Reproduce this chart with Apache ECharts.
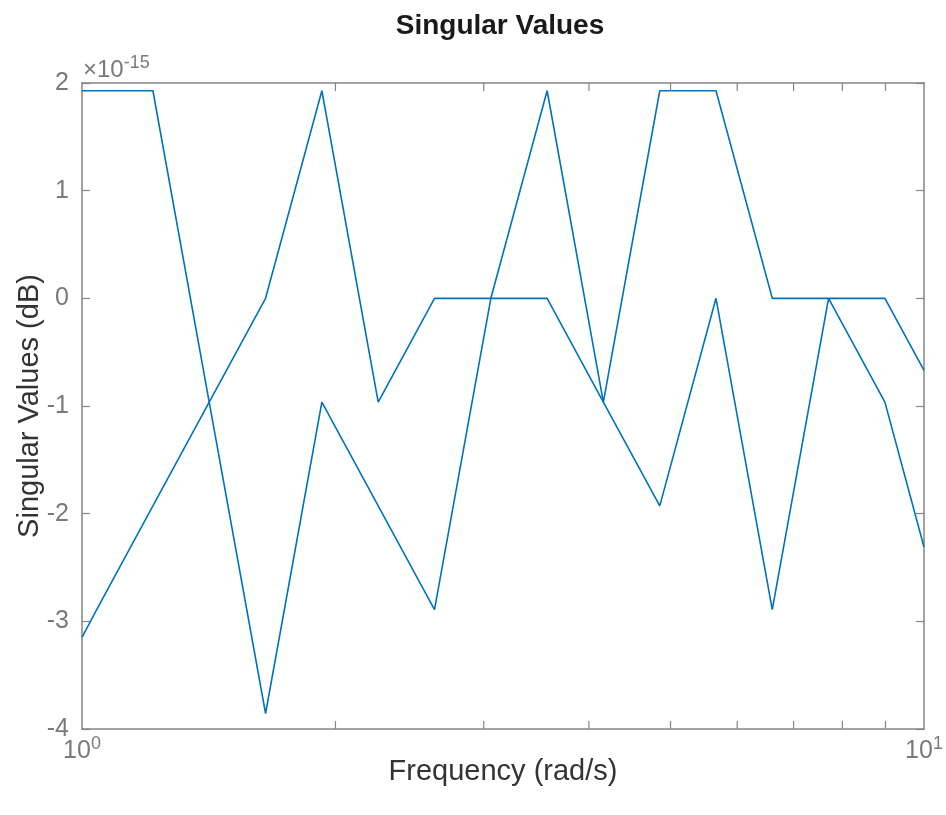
<!DOCTYPE html>
<html>
<head>
<meta charset="utf-8">
<script src="https://cdn.jsdelivr.net/npm/echarts@6/dist/echarts.min.js"></script>
<style>
html,body{margin:0;padding:0;background:#fff;}
#c{width:946px;height:815px;}
</style>
</head>
<body>
<div id="c"></div>
<script>
// Frequency points (rad/s)
var freq = [1, 1.041, 1.214, 1.416, 1.652, 1.927, 2.248, 2.622, 3.059, 3.568, 4.161, 4.855, 5.662, 6.604, 7.703, 8.986, 10];
// Singular values in units of 1e-15 dB
var sv1 = [1.928, 1.928, 1.928, -0.964, -3.856, -0.964, -1.928, -2.892, 0, 1.928, -0.964, 1.928, 1.928, 0, 0, 0, -0.67];
var sv2 = [-3.15, -2.892, -1.928, -0.964, 0, 1.928, -0.964, 0, 0, 0, -0.964, -1.928, 0, -2.892, 0, -0.964, -2.31];
// Axis ticks
var yTicks = [-4, -3, -2, -1, 0, 1, 2];
var xMinorTicks = [2, 3, 4, 5, 6, 7, 8, 9];
var xRange = [1, 10];
var yRange = [-4, 2];

var FONT = 'Liberation Sans, Arial, Helvetica, sans-serif';
var AXC = '#858585';
var TXC = '#7a7a7a';
var LINEC = '#0072BD';

function pairs(xs, ys) { return xs.map(function (x, i) { return [x, ys[i]]; }); }

var chart = echarts.init(document.getElementById('c'), null, {renderer: 'canvas'});
var option = {
  animation: false,
  backgroundColor: '#ffffff',
  grid: {left: 82, right: 22, top: 83, bottom: 86, containLabel: false},
  xAxis: [{
    type: 'log', logBase: 10, min: xRange[0], max: xRange[1],
    position: 'bottom',
    name: 'Frequency (rad/s)', nameLocation: 'middle', nameGap: 28, nameMoveOverlap: false,
    nameTextStyle: {fontFamily: FONT, fontSize: 29, color: '#333333'},
    axisLine: {show: true, onZero: false, lineStyle: {color: AXC, width: 1.5}},
    axisTick: {show: false},
    splitLine: {show: false},
    axisLabel: {
      show: true, margin: 6, color: TXC, fontFamily: FONT, fontSize: 25,
      formatter: function (v) {
        var e = Math.round(Math.log(v) / Math.LN10);
        return '{b|10}{s|' + e + '}';
      },
      rich: {
        b: {fontFamily: FONT, fontSize: 25, color: TXC},
        s: {fontFamily: FONT, fontSize: 18, color: TXC, padding: [0, 0, 14, 0]}
      }
    }
  }, {
    type: 'log', logBase: 10, min: xRange[0], max: xRange[1],
    position: 'top',
    axisLine: {show: true, onZero: false, lineStyle: {color: AXC, width: 1.5}},
    axisTick: {show: false}, axisLabel: {show: false}, splitLine: {show: false}
  }],
  yAxis: [{
    type: 'value', min: yRange[0], max: yRange[1], interval: 1,
    position: 'left',
    name: 'Singular Values (dB)', nameLocation: 'middle', nameGap: 38, nameRotate: 90, nameMoveOverlap: false,
    nameTextStyle: {fontFamily: FONT, fontSize: 29, color: '#333333'},
    axisLine: {show: true, onZero: false, lineStyle: {color: AXC, width: 1.5}},
    axisTick: {show: true, inside: true, length: 8, lineStyle: {color: AXC, width: 1.2}},
    axisLabel: {show: true, margin: 13, color: TXC, fontFamily: FONT, fontSize: 25,
      formatter: function (v) { return yTicks.indexOf(v) >= 0 ? String(v) : ''; }},
    splitLine: {show: false}
  }, {
    type: 'value', min: yRange[0], max: yRange[1], interval: 1,
    position: 'right',
    axisLine: {show: true, onZero: false, lineStyle: {color: AXC, width: 1.5}},
    axisTick: {show: true, inside: true, length: 8, lineStyle: {color: AXC, width: 1.2}},
    axisLabel: {show: false}, splitLine: {show: false}
  }],
  graphic: [{
    type: 'text', x: 500, y: 12,
    style: {text: 'Singular Values', font: 'bold 28px ' + FONT, fill: '#1a1a1a', align: 'center', textAlign: 'center'}
  }, {
    type: 'text', x: 83, y: 54,
    style: {
      text: '{a|\u00d710}{b|-15}',
      rich: {
        a: {fontFamily: FONT, fontSize: 24, fill: TXC, color: TXC},
        b: {fontFamily: FONT, fontSize: 18, fill: TXC, color: TXC, padding: [0, 0, 14, 0]}
      }
    }
  }],
  series: [{
    type: 'line', xAxisIndex: 0, yAxisIndex: 0,
    data: pairs(freq, sv1), showSymbol: false, symbol: 'none', clip: true,
    lineStyle: {color: LINEC, width: 1.6}, z: 3
  }, {
    type: 'line', xAxisIndex: 0, yAxisIndex: 0,
    data: pairs(freq, sv2), showSymbol: false, symbol: 'none', clip: true,
    lineStyle: {color: LINEC, width: 1.6}, z: 3
  }, {
    type: 'custom', xAxisIndex: 0, yAxisIndex: 0, silent: true, z: 4,
    data: xMinorTicks.map(function (x) { return [x]; }),
    renderItem: function (params, api) {
      var x = api.value(0);
      var pb = api.coord([x, yRange[0]]);
      var pt = api.coord([x, yRange[1]]);
      var st = {stroke: AXC, lineWidth: 1.2};
      return {type: 'group', children: [
        {type: 'line', shape: {x1: pb[0], y1: pb[1], x2: pb[0], y2: pb[1] - 8}, style: st},
        {type: 'line', shape: {x1: pt[0], y1: pt[1], x2: pt[0], y2: pt[1] + 8}, style: st}
      ]};
    }
  }]
};
chart.setOption(option);
</script>
</body>
</html>
